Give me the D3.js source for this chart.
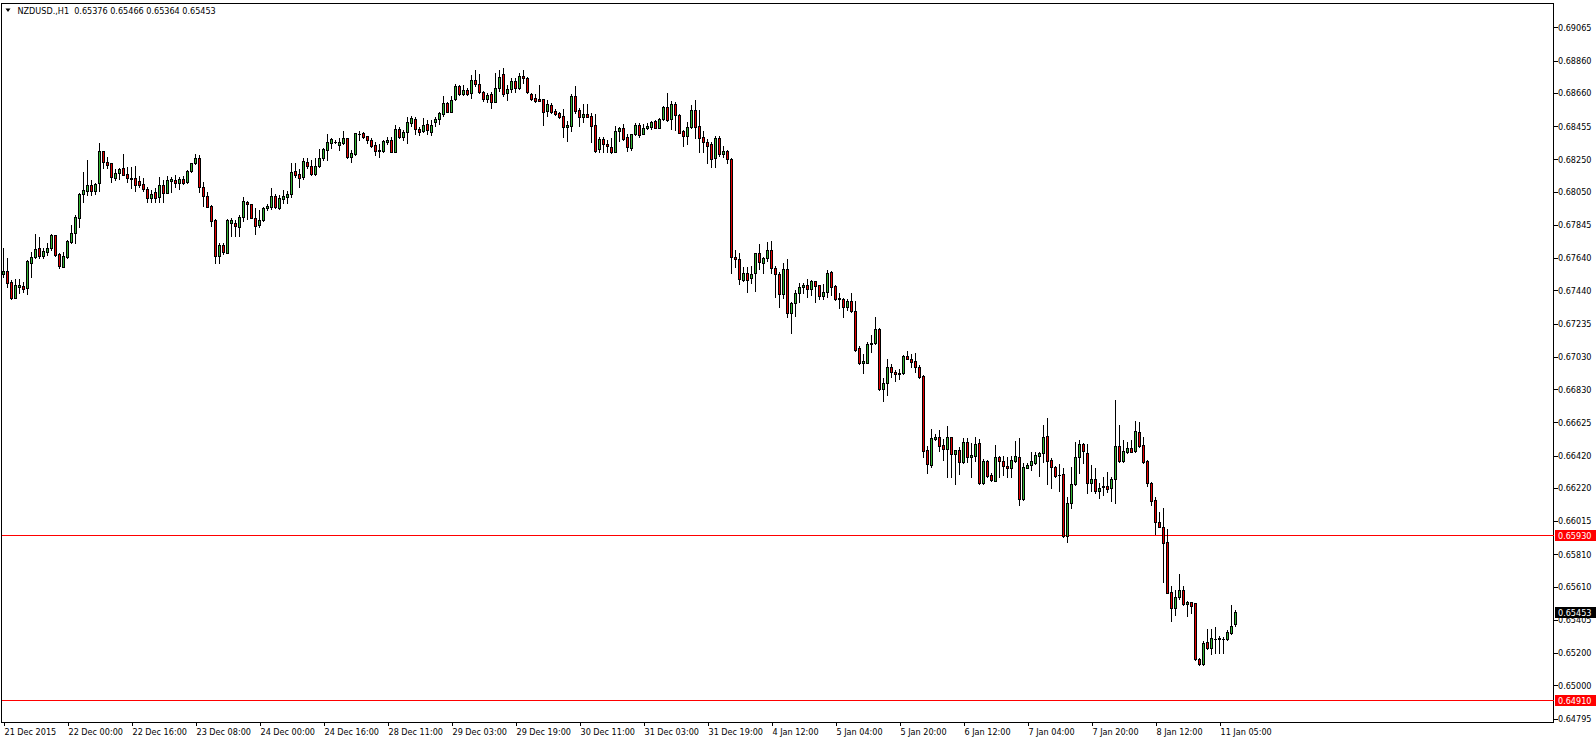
<!DOCTYPE html>
<html><head><meta charset="utf-8">
<script src="https://cdn.jsdelivr.net/npm/d3@7"></script>
<style>
html,body{margin:0;padding:0;background:#fff;overflow:hidden;}
svg{display:block;}
text{font-family:"DejaVu Sans Condensed","DejaVu Sans",sans-serif;font-stretch:condensed;font-size:9px;}
</style></head><body>
<svg id="chart" width="1596" height="744"></svg>
<script>
const symbolTitle = "NZDUSD.,H1";
const lastOHLC = [0.65376, 0.65466, 0.65364, 0.65453];

const open = [
0.67540,0.67561,0.67491,0.67396,0.67464,0.67468,0.67453,0.67612,0.67645,0.67701,
0.67655,0.67680,0.67701,0.67781,0.67664,0.67587,0.67649,0.67742,0.67793,0.67886,
0.68034,0.68057,0.68092,0.68057,0.68102,0.68302,0.68232,0.68226,0.68137,0.68164,
0.68195,0.68162,0.68133,0.68133,0.68117,0.68098,0.68065,0.68014,0.68047,0.68016,
0.68092,0.68045,0.68119,0.68123,0.68102,0.68127,0.68109,0.68179,0.68226,0.68257,
0.68078,0.68024,0.67962,0.67876,0.67655,0.67721,0.67674,0.67855,0.67855,0.67835,
0.67892,0.67989,0.67975,0.67886,0.67845,0.67876,0.67948,0.67954,0.68024,0.67952,
0.68008,0.68020,0.68036,0.68177,0.68160,0.68139,0.68236,0.68210,0.68158,0.68210,
0.68257,0.68308,0.68353,0.68359,0.68337,0.68353,0.68380,0.68267,0.68283,0.68409,
0.68411,0.68392,0.68368,0.68339,0.68306,0.68304,0.68355,0.68370,0.68298,0.68438,
0.68390,0.68417,0.68477,0.68499,0.68438,0.68425,0.68467,0.68421,0.68483,0.68497,
0.68530,0.68600,0.68545,0.68621,0.68703,0.68652,0.68679,0.68658,0.68740,0.68714,
0.68664,0.68621,0.68652,0.68607,0.68693,0.68776,0.68658,0.68683,0.68734,0.68693,
0.68765,0.68750,0.68652,0.68632,0.68623,0.68621,0.68549,0.68586,0.68549,0.68535,
0.68518,0.68452,0.68457,0.68642,0.68555,0.68510,0.68531,0.68518,0.68463,0.68312,
0.68376,0.68345,0.68325,0.68298,0.68428,0.68442,0.68387,0.68323,0.68405,0.68463,
0.68407,0.68442,0.68450,0.68488,0.68446,0.68498,0.68572,0.68498,0.68591,0.68525,
0.68426,0.68397,0.68448,0.68555,0.68457,0.68387,0.68360,0.68345,0.68257,0.68380,
0.68285,0.68300,0.68250,0.67645,0.67635,0.67505,0.67546,0.67515,0.67546,0.67670,
0.67608,0.67639,0.67690,0.67577,0.67542,0.67416,0.67571,0.67299,0.67365,0.67423,
0.67460,0.67474,0.67447,0.67499,0.67472,0.67408,0.67429,0.67552,0.67468,0.67394,
0.67386,0.67340,0.67375,0.67313,0.67083,0.66990,0.66994,0.67112,0.67114,0.67202,
0.66829,0.66866,0.66969,0.66938,0.66922,0.66928,0.67035,0.67017,0.67004,0.66969,
0.66912,0.66454,0.66362,0.66522,0.66533,0.66485,0.66461,0.66533,0.66428,0.66454,
0.66382,0.66502,0.66413,0.66419,0.66496,0.66248,0.66386,0.66300,0.66265,0.66409,
0.66386,0.66356,0.66341,0.66388,0.66409,0.66150,0.66345,0.66362,0.66376,0.66419,
0.66434,0.66541,0.66393,0.66347,0.66302,0.66304,0.65923,0.66125,0.66244,0.66409,
0.66489,0.66434,0.66253,0.66275,0.66203,0.66228,0.66232,0.66217,0.66273,0.66479,
0.66388,0.66444,0.66465,0.66450,0.66568,0.66485,0.66386,0.66253,0.66145,0.66009,
0.65981,0.65888,0.65575,0.65480,0.65544,0.65589,0.65501,0.65513,0.65507,0.65161,
0.65130,0.65266,0.65229,0.65284,0.65288,0.65286,0.65284,0.65326,0.65376];

const high = [
0.67701,0.67643,0.67505,0.67509,0.67509,0.67495,0.67629,0.67676,0.67789,0.67769,
0.67701,0.67732,0.67789,0.67781,0.67674,0.67680,0.67752,0.67845,0.67907,0.68041,
0.68170,0.68247,0.68123,0.68102,0.68350,0.68302,0.68267,0.68230,0.68191,0.68199,
0.68282,0.68205,0.68201,0.68212,0.68148,0.68137,0.68082,0.68061,0.68071,0.68144,
0.68123,0.68148,0.68144,0.68154,0.68144,0.68150,0.68185,0.68230,0.68284,0.68277,
0.68113,0.68051,0.67968,0.67880,0.67732,0.67732,0.67882,0.67886,0.67876,0.67907,
0.68020,0.67995,0.67975,0.67952,0.67938,0.67958,0.67975,0.68071,0.68034,0.68030,
0.68061,0.68057,0.68226,0.68226,0.68189,0.68257,0.68257,0.68247,0.68257,0.68315,
0.68319,0.68407,0.68380,0.68370,0.68380,0.68425,0.68384,0.68308,0.68415,0.68425,
0.68421,0.68396,0.68380,0.68359,0.68345,0.68370,0.68390,0.68390,0.68462,0.68452,
0.68431,0.68514,0.68518,0.68510,0.68452,0.68508,0.68493,0.68493,0.68514,0.68545,
0.68642,0.68607,0.68644,0.68714,0.68710,0.68710,0.68689,0.68771,0.68802,0.68776,
0.68673,0.68658,0.68664,0.68782,0.68802,0.68817,0.68710,0.68751,0.68755,0.68782,
0.68800,0.68760,0.68658,0.68654,0.68710,0.68621,0.68617,0.68597,0.68562,0.68541,
0.68562,0.68488,0.68652,0.68704,0.68566,0.68593,0.68593,0.68535,0.68531,0.68391,
0.68391,0.68370,0.68385,0.68457,0.68448,0.68469,0.68407,0.68407,0.68473,0.68473,
0.68467,0.68473,0.68488,0.68494,0.68504,0.68582,0.68658,0.68611,0.68603,0.68529,
0.68432,0.68483,0.68586,0.68617,0.68555,0.68428,0.68374,0.68360,0.68397,0.68395,
0.68330,0.68310,0.68260,0.67690,0.67674,0.67583,0.67587,0.67592,0.67674,0.67727,
0.67649,0.67738,0.67746,0.67592,0.67556,0.67612,0.67635,0.67371,0.67443,0.67489,
0.67489,0.67509,0.67505,0.67501,0.67472,0.67480,0.67567,0.67561,0.67474,0.67423,
0.67392,0.67386,0.67427,0.67377,0.67097,0.67048,0.67124,0.67165,0.67274,0.67206,
0.66897,0.67015,0.66984,0.66949,0.66953,0.67041,0.67066,0.67046,0.67056,0.66980,
0.66916,0.66479,0.66584,0.66553,0.66578,0.66522,0.66603,0.66537,0.66454,0.66475,
0.66531,0.66531,0.66496,0.66537,0.66520,0.66397,0.66393,0.66310,0.66485,0.66417,
0.66417,0.66413,0.66417,0.66510,0.66531,0.66376,0.66376,0.66440,0.66444,0.66444,
0.66609,0.66650,0.66403,0.66356,0.66366,0.66341,0.66166,0.66347,0.66506,0.66516,
0.66496,0.66491,0.66362,0.66341,0.66248,0.66290,0.66320,0.66290,0.66763,0.66609,
0.66516,0.66502,0.66516,0.66634,0.66629,0.66537,0.66393,0.66259,0.66166,0.66073,
0.66094,0.65964,0.65614,0.65589,0.65688,0.65614,0.65523,0.65517,0.65511,0.65167,
0.65274,0.65346,0.65346,0.65363,0.65305,0.65301,0.65342,0.65496,0.65466];

const low = [
0.67526,0.67464,0.67386,0.67392,0.67427,0.67433,0.67416,0.67526,0.67639,0.67639,
0.67639,0.67659,0.67690,0.67653,0.67577,0.67583,0.67639,0.67732,0.67732,0.67835,
0.67989,0.68030,0.68030,0.68034,0.68057,0.68195,0.68195,0.68113,0.68123,0.68127,
0.68152,0.68109,0.68071,0.68057,0.68082,0.68057,0.67985,0.67985,0.67989,0.67989,
0.67989,0.68041,0.68051,0.68082,0.68065,0.68098,0.68102,0.68174,0.68220,0.68051,
0.67962,0.67954,0.67841,0.67608,0.67608,0.67666,0.67670,0.67777,0.67777,0.67777,
0.67872,0.67880,0.67886,0.67789,0.67835,0.67872,0.67938,0.67944,0.67948,0.67944,
0.67983,0.67983,0.68016,0.68144,0.68078,0.68127,0.68195,0.68154,0.68154,0.68205,
0.68247,0.68247,0.68322,0.68349,0.68308,0.68343,0.68256,0.68232,0.68277,0.68370,
0.68380,0.68349,0.68328,0.68277,0.68267,0.68298,0.68343,0.68293,0.68293,0.68380,
0.68370,0.68349,0.68458,0.68405,0.68401,0.68417,0.68407,0.68401,0.68458,0.68467,
0.68520,0.68541,0.68541,0.68617,0.68648,0.68648,0.68648,0.68627,0.68705,0.68658,
0.68613,0.68607,0.68570,0.68602,0.68673,0.68644,0.68617,0.68668,0.68668,0.68683,
0.68720,0.68658,0.68617,0.68603,0.68613,0.68463,0.68520,0.68535,0.68525,0.68504,
0.68391,0.68366,0.68428,0.68535,0.68459,0.68483,0.68510,0.68356,0.68294,0.68298,
0.68298,0.68298,0.68288,0.68294,0.68364,0.68370,0.68304,0.68308,0.68401,0.68391,
0.68405,0.68438,0.68438,0.68442,0.68442,0.68494,0.68490,0.68438,0.68432,0.68411,
0.68333,0.68345,0.68442,0.68385,0.68298,0.68298,0.68230,0.68205,0.68205,0.68270,
0.68262,0.68230,0.67546,0.67583,0.67478,0.67499,0.67433,0.67489,0.67439,0.67571,
0.67546,0.67624,0.67550,0.67402,0.67340,0.67392,0.67274,0.67180,0.67285,0.67371,
0.67423,0.67398,0.67412,0.67371,0.67388,0.67388,0.67402,0.67412,0.67381,0.67334,
0.67274,0.67320,0.67309,0.67068,0.66984,0.66932,0.66990,0.67062,0.67109,0.66825,
0.66757,0.66794,0.66908,0.66883,0.66893,0.66924,0.67015,0.66965,0.66934,0.66897,
0.66409,0.66310,0.66351,0.66516,0.66450,0.66393,0.66290,0.66290,0.66242,0.66306,
0.66372,0.66382,0.66285,0.66388,0.66244,0.66244,0.66290,0.66265,0.66265,0.66290,
0.66300,0.66290,0.66285,0.66382,0.66114,0.66145,0.66341,0.66331,0.66366,0.66296,
0.66382,0.66244,0.66217,0.66290,0.66203,0.65915,0.65888,0.66094,0.66238,0.66310,
0.66372,0.66187,0.66203,0.66187,0.66156,0.66176,0.66197,0.66141,0.66129,0.66382,
0.66382,0.66434,0.66440,0.66440,0.66475,0.66376,0.66232,0.66114,0.65935,0.65976,
0.65641,0.65569,0.65400,0.65435,0.65532,0.65496,0.65431,0.65449,0.65157,0.65126,
0.65126,0.65223,0.65192,0.65198,0.65198,0.65198,0.65280,0.65317,0.65364];

const close = [
0.67559,0.67489,0.67396,0.67474,0.67474,0.67451,0.67622,0.67647,0.67697,0.67653,
0.67684,0.67705,0.67783,0.67662,0.67592,0.67653,0.67746,0.67793,0.67892,0.68034,
0.68061,0.68092,0.68057,0.68098,0.68302,0.68232,0.68218,0.68139,0.68166,0.68191,
0.68156,0.68133,0.68127,0.68094,0.68094,0.68065,0.68014,0.68034,0.68014,0.68092,
0.68041,0.68123,0.68127,0.68102,0.68129,0.68107,0.68179,0.68230,0.68261,0.68078,
0.68026,0.67958,0.67872,0.67655,0.67721,0.67676,0.67876,0.67876,0.67839,0.67892,
0.67995,0.67973,0.67890,0.67841,0.67876,0.67952,0.67964,0.68024,0.67954,0.68010,
0.68024,0.68036,0.68170,0.68156,0.68137,0.68240,0.68210,0.68158,0.68210,0.68257,
0.68313,0.68356,0.68374,0.68357,0.68355,0.68380,0.68267,0.68291,0.68411,0.68409,
0.68390,0.68368,0.68335,0.68304,0.68304,0.68364,0.68368,0.68298,0.68438,0.68390,
0.68417,0.68479,0.68504,0.68438,0.68421,0.68462,0.68431,0.68462,0.68499,0.68534,
0.68596,0.68545,0.68617,0.68703,0.68652,0.68679,0.68654,0.68740,0.68714,0.68664,
0.68621,0.68648,0.68607,0.68693,0.68761,0.68652,0.68683,0.68734,0.68693,0.68765,
0.68750,0.68665,0.68623,0.68613,0.68613,0.68545,0.68593,0.68545,0.68529,0.68514,
0.68452,0.68463,0.68644,0.68551,0.68510,0.68531,0.68514,0.68459,0.68302,0.68376,
0.68345,0.68335,0.68298,0.68426,0.68442,0.68376,0.68329,0.68405,0.68463,0.68401,
0.68442,0.68457,0.68479,0.68446,0.68498,0.68572,0.68494,0.68591,0.68525,0.68415,
0.68395,0.68448,0.68555,0.68452,0.68385,0.68360,0.68335,0.68253,0.68385,0.68285,
0.68300,0.68250,0.67649,0.67633,0.67509,0.67546,0.67505,0.67540,0.67670,0.67614,
0.67639,0.67690,0.67577,0.67540,0.67416,0.67571,0.67299,0.67365,0.67427,0.67460,
0.67474,0.67447,0.67499,0.67470,0.67408,0.67429,0.67550,0.67460,0.67388,0.67386,
0.67340,0.67375,0.67313,0.67072,0.66990,0.67004,0.67107,0.67114,0.67200,0.66829,
0.66866,0.66965,0.66934,0.66922,0.66932,0.67035,0.67017,0.67000,0.66965,0.66908,
0.66450,0.66366,0.66526,0.66537,0.66481,0.66461,0.66533,0.66428,0.66454,0.66382,
0.66502,0.66409,0.66423,0.66489,0.66253,0.66386,0.66296,0.66269,0.66409,0.66386,
0.66356,0.66341,0.66393,0.66417,0.66150,0.66351,0.66362,0.66386,0.66423,0.66438,
0.66533,0.66388,0.66347,0.66296,0.66298,0.65923,0.66125,0.66244,0.66409,0.66489,
0.66450,0.66253,0.66275,0.66203,0.66222,0.66230,0.66211,0.66275,0.66479,0.66388,
0.66448,0.66465,0.66444,0.66572,0.66481,0.66382,0.66248,0.66141,0.66007,0.65981,
0.65882,0.65573,0.65480,0.65548,0.65589,0.65501,0.65513,0.65492,0.65161,0.65130,
0.65264,0.65229,0.65290,0.65288,0.65290,0.65288,0.65332,0.65367,0.65453];

const priceTicks = [0.69065,0.68860,0.68660,0.68455,0.68250,0.68050,0.67845,0.67640,0.67440,0.67235,0.67030,
  0.66830,0.66625,0.66420,0.66220,0.66015,0.65810,0.65610,0.65405,0.65200,0.65000,0.64795];
const timeTickLabels = ["21 Dec 2015","22 Dec 00:00","22 Dec 16:00","23 Dec 08:00","24 Dec 00:00","24 Dec 16:00",
  "28 Dec 11:00","29 Dec 03:00","29 Dec 19:00","30 Dec 11:00","31 Dec 03:00","31 Dec 19:00","4 Jan 12:00",
  "5 Jan 04:00","5 Jan 20:00","6 Jan 12:00","7 Jan 04:00","7 Jan 20:00","8 Jan 12:00","11 Jan 05:00"];
const timeTickEvery = 16;
const levelLines = [0.65930, 0.64910];
const priceDomain = [0.647735, 0.692102];

const fmt = d3.format(".5f");
const FONT = '"DejaVu Sans Condensed","DejaVu Sans",sans-serif';
const svg = d3.select("#chart");
const n = open.length;
const plotL = 1.5, plotR = 1553.5, plotT = 3.5, plotB = 722.5;
const x = d3.scaleLinear().domain([0, n - 1]).range([3.5, 3.5 + 4 * (n - 1)]);
const y = d3.scaleLinear().domain(priceDomain).range([722, 4]);
const upColor = "#32b432", downColor = "#e60000";

const bars = d3.range(n).map(i => ({i, o: open[i], h: high[i], l: low[i], c: close[i]}));

// frame
svg.append("path")
  .attr("d", `M${plotL},${plotB}V${plotT}H${plotR}V${plotB}H${plotL}`)
  .attr("fill", "none").attr("stroke", "#000").attr("shape-rendering", "crispEdges");

// level lines
svg.append("g").selectAll("line").data(levelLines).join("line")
  .attr("x1", plotL).attr("x2", plotR)
  .attr("y1", d => Math.round(y(d)) + 0.5).attr("y2", d => Math.round(y(d)) + 0.5)
  .attr("stroke", "#ff0000").attr("shape-rendering", "crispEdges");

// candles
const cg = svg.append("g").attr("shape-rendering", "crispEdges");
cg.selectAll("line.wick").data(bars).join("line").attr("class", "wick")
  .attr("x1", d => x(d.i)).attr("x2", d => x(d.i))
  .attr("y1", d => Math.round(y(Math.max(d.h, d.o, d.c))))
  .attr("y2", d => Math.round(y(Math.min(d.l, d.o, d.c))) + 1)
  .attr("stroke", "#000");
const bodies = bars.map(d => {
  const t = Math.round(y(Math.max(d.o, d.c))), b = Math.round(y(Math.min(d.o, d.c)));
  return Object.assign({t, b}, d);
});
cg.selectAll("rect.body").data(bodies.filter(d => d.b - d.t >= 1)).join("rect").attr("class", "body")
  .attr("x", d => x(d.i) - 1).attr("y", d => d.t + 0.5)
  .attr("width", 2).attr("height", d => d.b - d.t)
  .attr("fill", d => d.c > d.o ? upColor : downColor)
  .attr("stroke", "#000");
cg.selectAll("line.doji").data(bodies.filter(d => d.b - d.t < 1)).join("line").attr("class", "doji")
  .attr("x1", d => x(d.i) - 1.5).attr("x2", d => x(d.i) + 1.5)
  .attr("y1", d => d.t + 0.5).attr("y2", d => d.t + 0.5)
  .attr("stroke", "#000");

// price axis
const yAxis = d3.axisRight(y).tickValues(priceTicks).tickFormat(fmt).tickSize(4);
const ya = svg.append("g").attr("transform", `translate(${plotR},0)`).call(yAxis);
ya.select(".domain").remove();
ya.attr("font-family", FONT).attr("font-size", 9);
ya.selectAll("line").attr("shape-rendering", "crispEdges");
ya.selectAll("text").attr("x", 4.5).attr("fill", "#000");

// time axis
const tickIdx = d3.range(0, n, timeTickEvery).slice(0, timeTickLabels.length);
const xAxis = d3.axisBottom(x).tickValues(tickIdx).tickFormat((d, k) => timeTickLabels[k]).tickSize(4);
const xa = svg.append("g").attr("transform", `translate(0,${plotB - 0.5})`).call(xAxis);
xa.select(".domain").remove();
xa.attr("font-family", FONT).attr("font-size", 9);
xa.selectAll("line").attr("shape-rendering", "crispEdges");
xa.selectAll("text").attr("text-anchor", "start").attr("x", 0.5).attr("y", 7).attr("dy", "0.71em").attr("fill", "#000");

// price labels (levels + current)
const tags = levelLines.map(v => ({v, bg: "#ff0000"})).concat([{v: close[n - 1], bg: "#000"}]);
const tg = svg.append("g");
tg.selectAll("rect").data(tags).join("rect")
  .attr("x", plotR + 1.5).attr("y", d => Math.round(y(d.v)) - 5)
  .attr("width", 41).attr("height", 11).attr("fill", d => d.bg);
tg.selectAll("text").data(tags).join("text")
  .attr("x", plotR + 4.5).attr("y", d => Math.round(y(d.v)) + 0.5)
  .attr("dy", "0.34em").attr("fill", "#fff").attr("font-size", 9)
  .text(d => fmt(d.v));

// header
svg.append("path").attr("d", "M5.5,8.5L10.5,8.5L8,12Z").attr("fill", "#000");
svg.append("text").attr("x", 17.5).attr("y", 14).attr("fill", "#000").attr("font-size", 9.5)
  .attr("xml:space", "preserve").style("white-space", "pre")
  .text(`${symbolTitle}  ${lastOHLC.map(fmt).join(" ")}`);
</script>
</body></html>
